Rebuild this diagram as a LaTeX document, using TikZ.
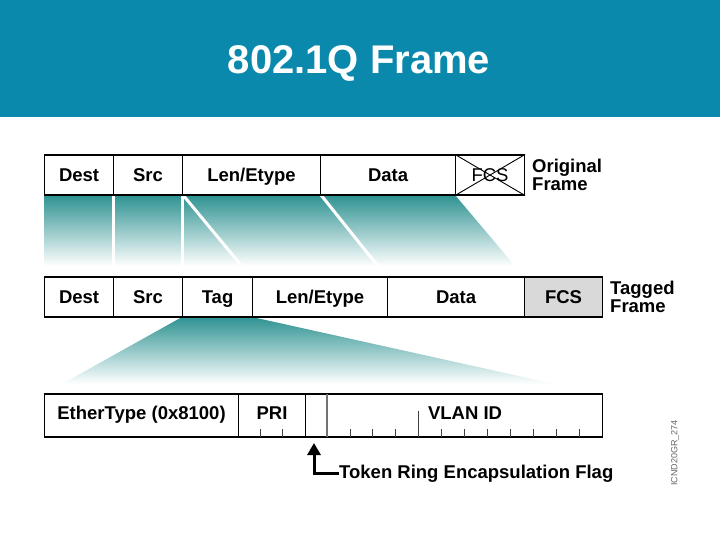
\documentclass[tikz,border=0pt]{standalone}
\usepackage{fontspec}
\setmainfont{Liberation Sans}
\usetikzlibrary{arrows.meta,calc}
\definecolor{titlebar}{RGB}{11,137,173}
\definecolor{tealfan}{RGB}{46,146,146}
\definecolor{fcsgray}{RGB}{217,217,217}
\begin{document}
\begin{tikzpicture}[x=1pt,y=-1pt,
  cell/.style={draw=black,line width=1.1pt,fill=white,anchor=west,inner sep=0pt,
    text height=13.2pt,text depth=0pt,
    font=\fontsize{18.5}{20}\selectfont\bfseries},
  side/.style={anchor=west,align=left,inner sep=0pt,font=\fontsize{18.5}{17.5}\selectfont\bfseries},
  tick/.style={line width=0.8pt,black!75}]
\useasboundingbox (0,0) rectangle (720,540);
\fill[titlebar] (0,0) rectangle (720,117);
\node[text=white,font=\fontsize{40}{44}\selectfont\bfseries] (title) at (359,63) {802.1Q Frame};

% fans
\shade[top color=tealfan,bottom color=white] (44,195) -- (455,195) -- (515,266) -- (44,266) -- cycle;
\begin{scope}[white,line width=3pt]
\draw (113.5,195) -- (113.5,268);
\draw (182.5,195) -- (182.5,268);
\draw (183,195) -- (245,270);
\draw (321,195) -- (381,270);
\end{scope}
\shade[top color=tealfan,bottom color=white] (182,317) -- (252,317) -- (555,384) -- (62,384) -- cycle;

% row 1
\node[cell,minimum width=69pt,minimum height=40pt] (d1) at (44,175) {Dest};
\node[cell,minimum width=69pt,minimum height=40pt] (s1) at (113,175) {Src};
\node[cell,minimum width=138pt,minimum height=40pt] (l1) at (182,175) {Len/Etype};
\node[cell,minimum width=135pt,minimum height=40pt] (a1) at (320,175) {Data};
\node[cell,minimum width=69pt,minimum height=40pt,font=\fontsize{18.5}{20}\selectfont] (f1) at (455,175) {FCS};
\draw[line width=0.9pt] (f1.north west) -- (f1.south east) (f1.south west) -- (f1.north east);
\node[side] (orig) at (532,175) {Original\\Frame};

% row 2
\node[cell,minimum width=69pt,minimum height=40pt] (d2) at (44,297) {Dest};
\node[cell,minimum width=69pt,minimum height=40pt] (s2) at (113,297) {Src};
\node[cell,minimum width=70pt,minimum height=40pt] (t2) at (182,297) {Tag};
\node[cell,minimum width=135pt,minimum height=40pt] (l2) at (252,297) {Len/Etype};
\node[cell,minimum width=137pt,minimum height=40pt] (a2) at (387,297) {Data};
\node[cell,minimum width=78pt,minimum height=40pt,fill=fcsgray] (f2) at (524,297) {FCS};
\node[side] (tagged) at (610,297) {Tagged\\Frame};

% row 3
\node[cell,minimum width=194pt,minimum height=43pt] (eth) at (44,415.5) {\raisebox{2.5pt}{EtherType (0x8100)}};
\node[cell,minimum width=67pt,minimum height=43pt] (pri) at (238,415.5) {\raisebox{2.5pt}{PRI}};
\node[cell,minimum width=22pt,minimum height=43pt] (cfi) at (305,415.5) {};
\node[cell,minimum width=275pt,minimum height=43pt] (vid) at (327,415.5) {\raisebox{2.5pt}{VLAN ID}};
\draw[line width=1.1pt,black!55] ([yshift=-0.6pt]vid.north west) -- ([yshift=0.6pt]vid.south west);
\foreach \x in {260.3,282.6} \draw[tick] (\x,437) -- (\x,429);
\foreach \k in {1,2,3,5,6,7,8,9,10,11} \draw[tick] ({327+\k*275/12},437) -- ({327+\k*275/12},429);
\draw[tick] ({327+4*275/12},437) -- ({327+4*275/12},411);

% flag pointer
\node[anchor=west,inner sep=0pt,font=\fontsize{18.5}{20}\selectfont\bfseries] (tok) at (339,473.5) {Token Ring Encapsulation Flag};
\coordinate (flagtip) at (314,443);
\draw[line width=3pt,line join=miter,-{Triangle[length=12pt,width=13pt]}] (tok.west) -| (flagtip);

\node[rotate=90,text=black!60,font=\fontsize{9}{10}\selectfont] (code) at (675,453) {ICND20GR\_274};
\end{tikzpicture}
\end{document}
